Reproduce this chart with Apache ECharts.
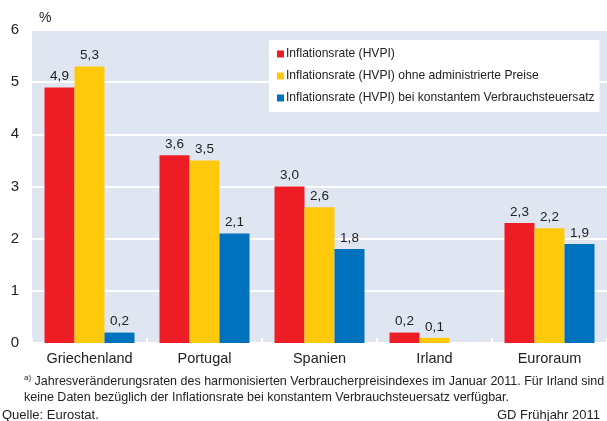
<!DOCTYPE html>
<html><head><meta charset="utf-8">
<script src="https://cdn.jsdelivr.net/npm/echarts@6/dist/echarts.min.js"></script>
<style>html,body{margin:0;padding:0;background:#fff}#c{width:607px;height:421px}</style>
</head><body><div id="c"></div>
<script>
const categories = ['Griechenland', 'Portugal', 'Spanien', 'Irland', 'Euroraum'];
const seriesNames = ['Inflationsrate (HVPI)', 'Inflationsrate (HVPI) ohne administrierte Preise', 'Inflationsrate (HVPI) bei konstantem Verbrauchsteuersatz'];
const hvpi = [4.9, 3.6, 3.0, 0.2, 2.3];
const ohneAdmin = [5.3, 3.5, 2.6, 0.1, 2.2];
const konstSteuer = [0.2, 2.1, 1.8, null, 1.9];
const yTicks = [0, 1, 2, 3, 4, 5, 6];
const colors = ['#ee1c25', '#ffc90b', '#0071bc'];
const FONT = 'Liberation Sans, Arial, sans-serif';

const chart = echarts.init(document.getElementById('c'));
const fmt = p => p.value == null ? '' : p.value.toFixed(1).replace('.', ',');
function mk(name, data, i) {
  return {
    name, type: 'bar', data, barWidth: 30, barGap: '0%',
    itemStyle: { color: colors[i] },
    label: { show: true, position: 'top', distance: 4, formatter: fmt, color: '#222', fontSize: 13.5, fontFamily: FONT }
  };
}
chart.setOption({
  animation: false,
  textStyle: { fontFamily: FONT },
  grid: { left: 32, top: 30, width: 581, height: 313, show: true, backgroundColor: '#dfe6f2', borderWidth: 0 },
  title: [
    { text: '%', left: 34, top: 6, textStyle: { fontSize: 14, fontWeight: 'normal', color: '#222', fontFamily: FONT } },
    { text: '{s|a)} Jahresveränderungsraten des harmonisierten Verbraucherpreisindexes im Januar 2011. Für Irland sind\nkeine Daten bezüglich der Inflationsrate bei konstantem Verbrauchsteuersatz verfügbar.',
      left: 19, top: 369,
      textStyle: { fontSize: 12.5, fontWeight: 'normal', color: '#222', lineHeight: 16, fontFamily: FONT,
        rich: { s: { fontSize: 8, verticalAlign: 'top', lineHeight: 16, color: '#222', padding: [0, 0, 6, 0], fontFamily: FONT } } } },
    { text: 'Quelle: Eurostat.', left: -3, top: 404, textStyle: { fontSize: 13, fontWeight: 'normal', color: '#222', fontFamily: FONT } },
    { text: 'GD Frühjahr 2011', right: 2, top: 404, textStyle: { fontSize: 13, fontWeight: 'normal', color: '#222', fontFamily: FONT } }
  ],
  legend: {
    orient: 'vertical', left: 269, top: 40, width: 340,
    backgroundColor: '#fff', padding: [8, 5, 8, 8], itemGap: 10,
    icon: 'rect', itemWidth: 7, itemHeight: 7,
    textStyle: { fontSize: 12.1, color: '#222', padding: [0, 0, 0, -3], fontFamily: FONT },
    data: seriesNames
  },
  xAxis: {
    type: 'category', data: categories,
    axisLine: { show: false },
    axisTick: { show: true, inside: true, length: 5, lineStyle: { color: '#fff', width: 2 } },
    axisLabel: { color: '#222', fontSize: 14.5, margin: 8, fontFamily: FONT }
  },
  yAxis: {
    type: 'value', min: 0, max: 6, interval: 1,
    axisLine: { show: false }, axisTick: { show: false },
    axisLabel: { color: '#222', fontSize: 15, margin: 13, fontFamily: FONT, formatter: v => yTicks.includes(v) ? String(v) : '' },
    splitLine: { lineStyle: { color: '#fff', width: 2 } }
  },
  series: [mk(seriesNames[0], hvpi, 0), mk(seriesNames[1], ohneAdmin, 1), mk(seriesNames[2], konstSteuer, 2)]
});
</script></body></html>
